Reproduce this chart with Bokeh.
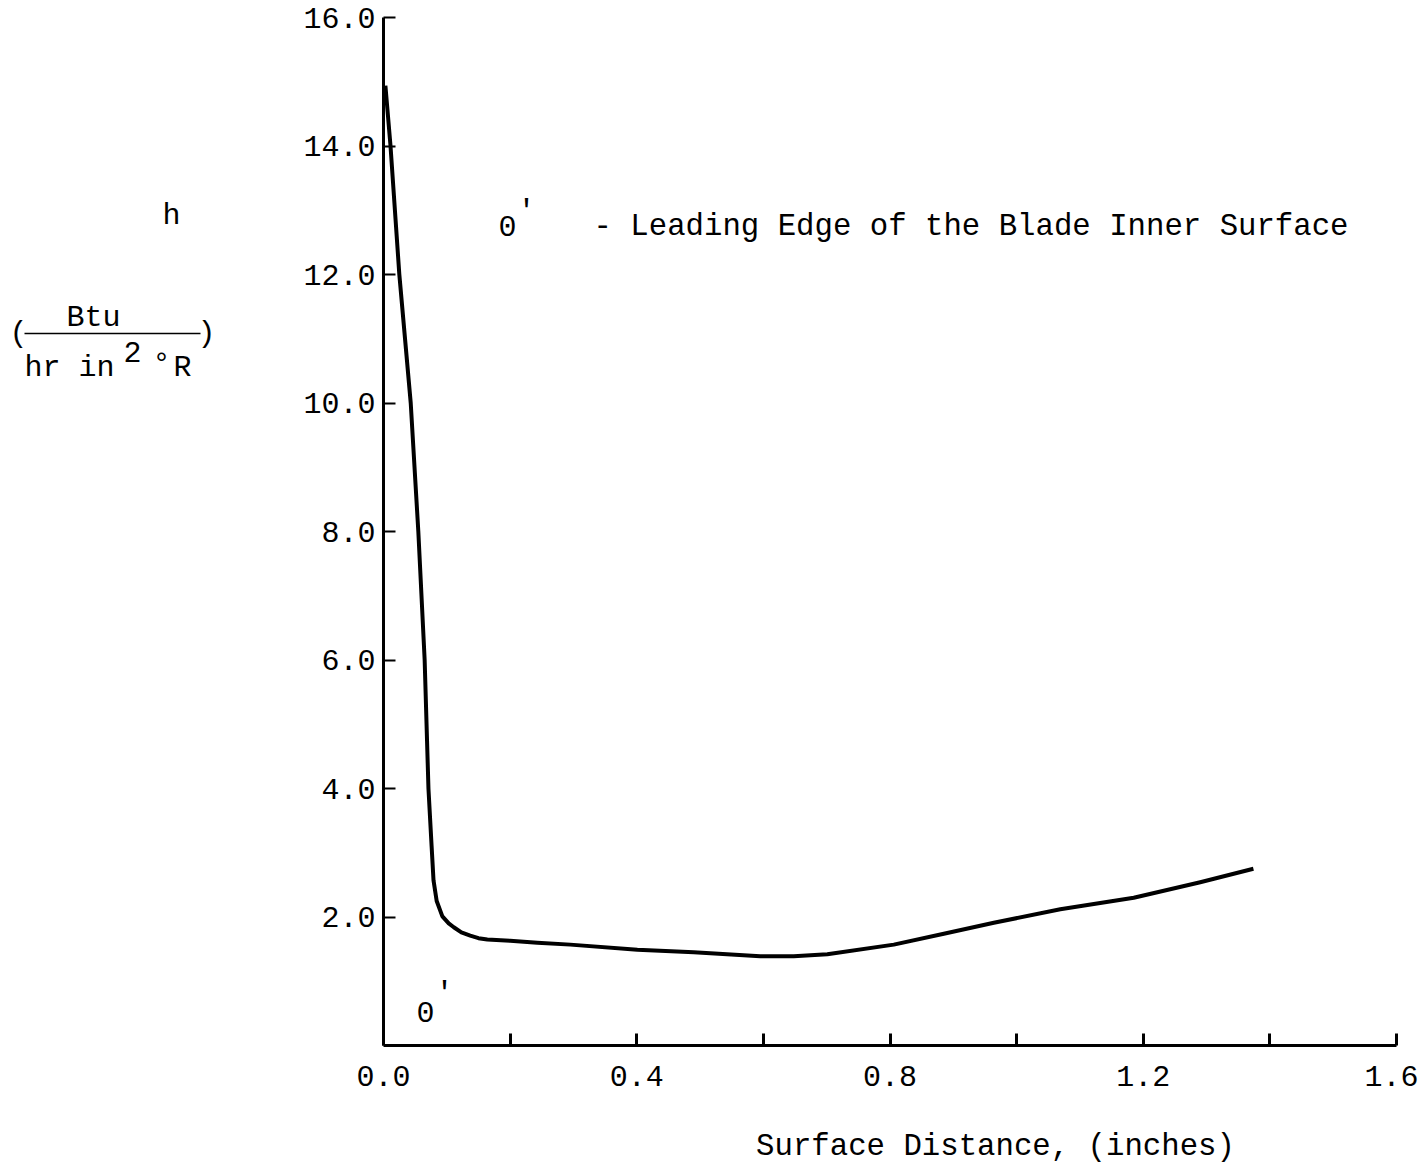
from bokeh.plotting import figure
from bokeh.layouts import row, column
from bokeh.models import Range1d, FixedTicker, PrintfTickFormatter, Label
from bokeh.embed import file_html
from bokeh.resources import INLINE

# Data
surface_distance = [0.003, 0.011, 0.025, 0.043, 0.055, 0.065, 0.071, 0.076, 0.079, 0.084,
                    0.093, 0.103, 0.111, 0.123, 0.137, 0.150, 0.164, 0.200, 0.243, 0.295,
                    0.401, 0.49, 0.595, 0.648, 0.701, 0.806, 0.885, 0.964, 1.069, 1.185,
                    1.29, 1.374]
h_values = [14.94, 14.01, 12.0, 10.0, 8.0, 6.0, 4.0, 3.1, 2.57, 2.25,
            2.01, 1.90, 1.84, 1.76, 1.71, 1.67, 1.65, 1.63, 1.60, 1.57,
            1.49, 1.45, 1.39, 1.39, 1.42, 1.57, 1.74, 1.91, 2.12, 2.30,
            2.54, 2.75]

x_ticks = [0.0, 0.2, 0.4, 0.6, 0.8, 1.0, 1.2, 1.4, 1.6]
x_tick_labels = ["0.0", "", "0.4", "", "0.8", "", "1.2", "", "1.6"]
y_ticks = [2, 4, 6, 8, 10, 12, 14, 16]

FONT = "Liberation Mono"
FS = "30px"

W, H = 1418, 1164
TOP_H = 1110           # height of the row holding the plot
LEFT_W = 290
L, R, T = 383, 22, 17
FRAME_BOTTOM = 1045

# ---- left panel holding the y-axis title ----
# (its frame is aligned with the main frame by the row layout)
pl = figure(width=LEFT_W, height=TOP_H, output_backend="svg", toolbar_location=None,
            x_range=Range1d(0, LEFT_W), y_range=Range1d(FRAME_BOTTOM, T),
            x_axis_location=None, y_axis_location=None,
            min_border=0)
pl.outline_line_color = None
pl.grid.visible = False
pl.border_fill_color = "white"


def ltext(fig, text, px, py, align="left", size=FS):
    fig.add_layout(Label(x=px, y=py, text=text, text_font=FONT, text_font_size=size,
                         text_color="black", text_align=align, text_baseline="middle"))


ltext(pl, "h", 171, 215, align="center")
ltext(pl, "(", 9, 333)
ltext(pl, "Btu", 93, 317, align="center")
ltext(pl, "hr in", 24, 367)
ltext(pl, "2", 123, 351)
ltext(pl, "\u00b0", 152, 364)
ltext(pl, "R", 173, 367)
ltext(pl, ")", 197, 333)
pl.segment(x0=[24], y0=[333], x1=[200], y1=[333], line_color="black", line_width=1.5)

# ---- main plot ----
p = figure(width=W - LEFT_W, height=TOP_H, output_backend="svg", toolbar_location=None,
           x_range=Range1d(0, 1.6), y_range=Range1d(0, 16),
           min_border_left=L - LEFT_W, min_border_right=R, min_border_top=T,
           min_border_bottom=TOP_H - FRAME_BOTTOM)
p.outline_line_color = None
p.grid.visible = False
p.background_fill_color = "white"
p.border_fill_color = "white"

p.line(surface_distance, h_values, line_color="black", line_width=4, line_join="round")

xa = p.xaxis[0]
xa.ticker = FixedTicker(ticks=x_ticks)
xa.major_label_overrides = {t: s for t, s in zip(x_ticks, x_tick_labels)}
xa.minor_tick_line_color = None
xa.major_tick_in = 12
xa.major_tick_out = 0
xa.major_tick_line_width = 3
xa.axis_line_width = 3
xa.major_label_standoff = 20
xa.major_label_text_font = FONT
xa.major_label_text_font_size = FS
xa.major_label_text_color = "black"

ya = p.yaxis[0]
ya.ticker = FixedTicker(ticks=y_ticks)
ya.formatter = PrintfTickFormatter(format="%.1f")
ya.minor_tick_line_color = None
ya.major_tick_in = 12
ya.major_tick_out = 0
ya.major_tick_line_width = 2
ya.axis_line_width = 3
ya.major_label_standoff = 8
ya.major_label_text_font = FONT
ya.major_label_text_font_size = FS
ya.major_label_text_color = "black"


def px_x(px):
    return (px - L) / (1396 - L) * 1.6


def px_y(py):
    return (FRAME_BOTTOM - py) / (FRAME_BOTTOM - T) * 16.0


def add_text(text, px, py, align="left", size=FS):
    p.add_layout(Label(x=px_x(px), y=px_y(py), text=text, text_font=FONT,
                       text_font_size=size, text_color="black", text_align=align,
                       text_baseline="middle"))


add_text("0", 498, 225)
add_text("'", 517, 211)
add_text("- Leading Edge of the Blade Inner Surface", 593, 226, size="30.7px")
add_text("0", 416, 1011)
add_text("'", 435, 993)

# ---- bottom strip holding the x-axis title ----
BOT_H = H - TOP_H
pb = figure(width=W, height=BOT_H, output_backend="svg", toolbar_location=None,
            x_range=Range1d(0, W), y_range=Range1d(H, TOP_H),
            x_axis_location=None, y_axis_location=None, min_border=0)
pb.outline_line_color = None
pb.grid.visible = False
pb.border_fill_color = "white"
ltext(pb, "Surface Distance, (inches)", 995, 1146, align="center", size="30.7px")

layout = column(row(pl, p, spacing=0), pb, spacing=0)
open("out.html", "w").write(file_html(layout, INLINE))
